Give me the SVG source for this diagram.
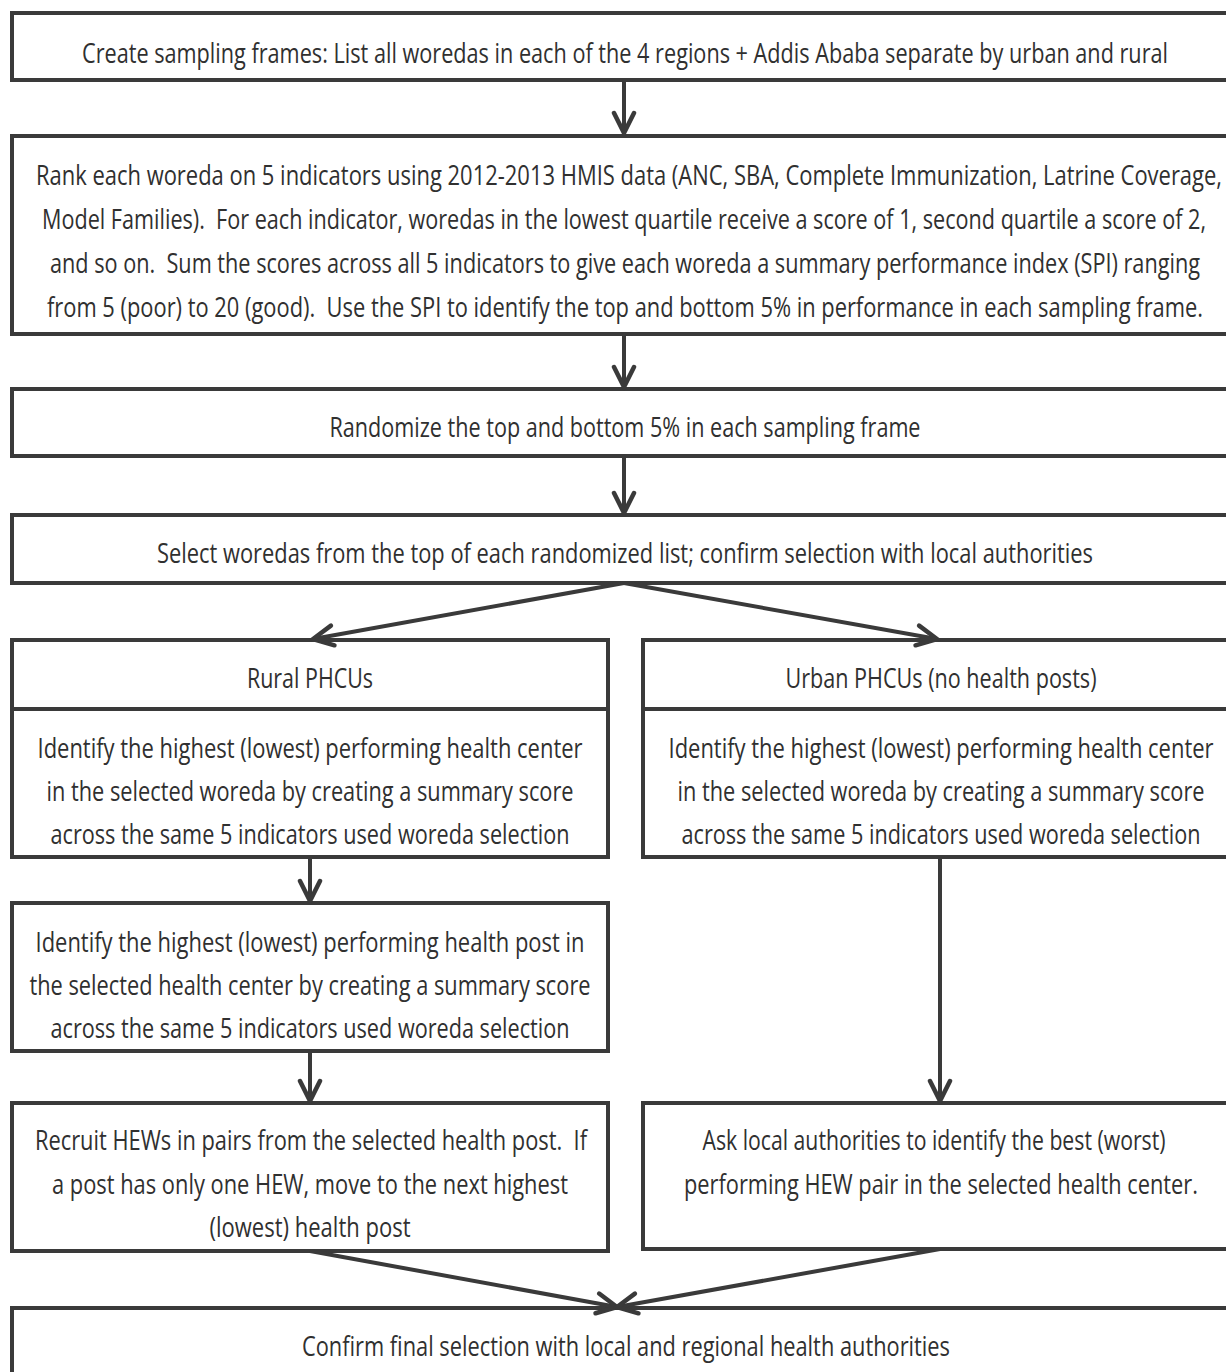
<svg xmlns="http://www.w3.org/2000/svg" width="1226" height="1372" viewBox="0 0 1226 1372">
<style>
.bg{fill:#ffffff;stroke:none}
.box{fill:#ffffff;stroke:#3a3a3a;stroke-width:4}
.edge{fill:none;stroke:#3a3a3a;stroke-width:4}
.t{font-family:"Open Sans","Liberation Sans",sans-serif;font-size:28px;fill:#303030;text-anchor:middle}
.c{fill:none;stroke:#3a3a3a;stroke-width:4}
</style>
<defs>
<marker id="ah" markerUnits="userSpaceOnUse" markerWidth="30" markerHeight="30" viewBox="-26 -15 30 30" refX="0" refY="0" orient="auto">
<path d="M-20,-10 L0,0 L-20,10" fill="none" stroke="#3a3a3a" stroke-width="4.5" stroke-linecap="round" stroke-linejoin="miter"/>
</marker>
</defs>
<rect x="0" y="0" width="1226" height="1372" fill="#ffffff"/>
<g id="n1">
<rect class="bg" x="12" y="13" width="1214" height="67"/>
<path class="edge" d="M1226,13 H12 V80 H1226"/>
<text class="t" x="625" y="63" textLength="1086" lengthAdjust="spacingAndGlyphs">Create sampling frames: List all woredas in each of the 4 regions + Addis Ababa separate by urban and rural</text>
</g>
<g id="n2">
<rect class="bg" x="12" y="136" width="1214" height="198"/>
<path class="edge" d="M1226,136 H12 V334 H1226"/>
<text class="t" x="629" y="185" textLength="1186" lengthAdjust="spacingAndGlyphs">Rank each woreda on 5 indicators using 2012-2013 HMIS data (ANC, SBA, Complete Immunization, Latrine Coverage,</text>
<text class="t" x="624" y="229" textLength="1164" lengthAdjust="spacingAndGlyphs" xml:space="preserve">Model Families).  For each indicator, woredas in the lowest quartile receive a score of 1, second quartile a score of 2,</text>
<text class="t" x="625" y="273" textLength="1150" lengthAdjust="spacingAndGlyphs" xml:space="preserve">and so on.  Sum the scores across all 5 indicators to give each woreda a summary performance index (SPI) ranging</text>
<text class="t" x="625" y="317" textLength="1156" lengthAdjust="spacingAndGlyphs" xml:space="preserve">from 5 (poor) to 20 (good).  Use the SPI to identify the top and bottom 5% in performance in each sampling frame.</text>
</g>
<g id="n3">
<rect class="bg" x="12" y="389" width="1214" height="67"/>
<path class="edge" d="M1226,389 H12 V456 H1226"/>
<text class="t" x="625" y="437" textLength="591" lengthAdjust="spacingAndGlyphs">Randomize the top and bottom 5% in each sampling frame</text>
</g>
<g id="n4">
<rect class="bg" x="12" y="515" width="1214" height="68"/>
<path class="edge" d="M1226,515 H12 V583 H1226"/>
<text class="t" x="625" y="563" textLength="936" lengthAdjust="spacingAndGlyphs">Select woredas from the top of each randomized list; confirm selection with local authorities</text>
</g>
<g id="n5">
<rect class="box" x="12" y="640" width="596" height="217"/>
<line class="c" x1="12" y1="709" x2="608" y2="709"/>
<text class="t" x="310" y="688" textLength="126" lengthAdjust="spacingAndGlyphs">Rural PHCUs</text>
<text class="t" x="310" y="758" textLength="545" lengthAdjust="spacingAndGlyphs">Identify the highest (lowest) performing health center</text>
<text class="t" x="310" y="801" textLength="527" lengthAdjust="spacingAndGlyphs">in the selected woreda by creating a summary score</text>
<text class="t" x="310" y="844" textLength="519" lengthAdjust="spacingAndGlyphs">across the same 5 indicators used woreda selection</text>
</g>
<g id="n6">
<rect class="bg" x="643" y="640" width="583" height="217"/>
<path class="edge" d="M1226,640 H643 V857 H1226 M643,709 H1226"/>
<text class="t" x="941" y="688" textLength="311" lengthAdjust="spacingAndGlyphs">Urban PHCUs (no health posts)</text>
<text class="t" x="941" y="758" textLength="545" lengthAdjust="spacingAndGlyphs">Identify the highest (lowest) performing health center</text>
<text class="t" x="941" y="801" textLength="527" lengthAdjust="spacingAndGlyphs">in the selected woreda by creating a summary score</text>
<text class="t" x="941" y="844" textLength="519" lengthAdjust="spacingAndGlyphs">across the same 5 indicators used woreda selection</text>
</g>
<g id="n7">
<rect class="box" x="12" y="903" width="596" height="148"/>
<text class="t" x="310" y="952" textLength="549" lengthAdjust="spacingAndGlyphs">Identify the highest (lowest) performing health post in</text>
<text class="t" x="310" y="995" textLength="561" lengthAdjust="spacingAndGlyphs">the selected health center by creating a summary score</text>
<text class="t" x="310" y="1038" textLength="519" lengthAdjust="spacingAndGlyphs">across the same 5 indicators used woreda selection</text>
</g>
<g id="n8">
<rect class="box" x="12" y="1103" width="596" height="148"/>
<text class="t" x="311" y="1150" textLength="552" lengthAdjust="spacingAndGlyphs" xml:space="preserve">Recruit HEWs in pairs from the selected health post.  If</text>
<text class="t" x="310" y="1194" textLength="516" lengthAdjust="spacingAndGlyphs">a post has only one HEW, move to the next highest</text>
<text class="t" x="310" y="1237" textLength="201" lengthAdjust="spacingAndGlyphs">(lowest) health post</text>
</g>
<g id="n9">
<rect class="bg" x="643" y="1103" width="583" height="146"/>
<path class="edge" d="M1226,1103 H643 V1249 H1226"/>
<text class="t" x="934" y="1150" textLength="463" lengthAdjust="spacingAndGlyphs">Ask local authorities to identify the best (worst)</text>
<text class="t" x="941" y="1194" textLength="514" lengthAdjust="spacingAndGlyphs">performing HEW pair in the selected health center.</text>
</g>
<g id="n10">
<rect class="bg" x="12" y="1308" width="1214" height="64"/>
<path class="edge" d="M1226,1308 H12 V1372"/>
<text class="t" x="626" y="1356" textLength="648" lengthAdjust="spacingAndGlyphs">Confirm final selection with local and regional health authorities</text>
</g>
<g id="connectors">
<line class="c" x1="624" y1="80" x2="624" y2="133" marker-end="url(#ah)"/>
<line class="c" x1="624" y1="334" x2="624" y2="387" marker-end="url(#ah)"/>
<line class="c" x1="624" y1="456" x2="624" y2="513" marker-end="url(#ah)"/>
<line class="c" x1="624" y1="583" x2="313" y2="639" marker-end="url(#ah)"/>
<line class="c" x1="624" y1="583" x2="937" y2="639" marker-end="url(#ah)"/>
<line class="c" x1="310" y1="857" x2="310" y2="901" marker-end="url(#ah)"/>
<line class="c" x1="310" y1="1051" x2="310" y2="1101" marker-end="url(#ah)"/>
<line class="c" x1="940" y1="857" x2="940" y2="1101" marker-end="url(#ah)"/>
<line class="c" x1="310" y1="1251" x2="617" y2="1307" marker-end="url(#ah)"/>
<line class="c" x1="940" y1="1249" x2="617" y2="1307" marker-end="url(#ah)"/>
</g>
</svg>
